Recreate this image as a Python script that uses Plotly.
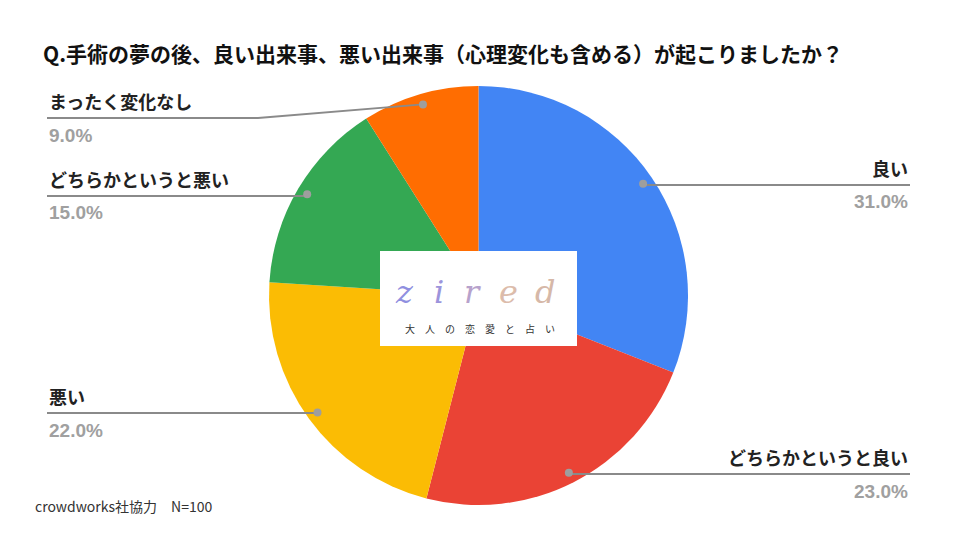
import math
import plotly.graph_objects as go

# ---- data ----
categories = ["良い", "どちらかというと良い", "悪い", "どちらかというと悪い", "まったく変化なし"]
values = [31.0, 23.0, 22.0, 15.0, 9.0]
colors = ["#4285F4", "#EA4335", "#FBBC04", "#34A853", "#FF6D01"]
title_text = "Q.手術の夢の後、良い出来事、悪い出来事（心理変化も含める）が起こりましたか？"
footer_text = "crowdworks社協力　N=100"

W, H = 960, 540
CX, CY, R = 478.5, 295.5, 209.5


def px(x):
    return x / W


def py(y):
    return 1 - y / H


fig = go.Figure()
fig.add_trace(go.Pie(
    labels=categories, values=values, sort=False, direction="clockwise",
    rotation=0, marker=dict(colors=colors, line=dict(width=0)),
    textinfo="none", hoverinfo="label+percent", showlegend=False,
    domain=dict(x=[px(CX - R), px(CX + R)], y=[py(CY + R), py(CY - R)]),
))

# label layout: side, label-line y, bend x (None -> dot x)
label_layout = {
    "良い": ("right", 185, None),
    "どちらかというと良い": ("right", 474, None),
    "悪い": ("left", 413, None),
    "どちらかというと悪い": ("left", 196, None),
    "まったく変化なし": ("left", 118, 258),
}

shapes = []
annotations = []
total = sum(values)
cum = 0.0
for cat, v in zip(categories, values):
    mid = (cum + v / 2) / total * 2 * math.pi
    cum += v
    dx = CX + 0.95 * R * math.sin(mid)
    dy = CY - 0.95 * R * math.cos(mid)
    side, ly, bend = label_layout[cat]
    edge = 47 if side == "left" else 910
    bx = dx if bend is None else bend
    path = f"M {px(edge)} {py(ly)} L {px(bx)} {py(ly)} L {px(dx)} {py(dy)}"
    shapes.append(dict(type="path", path=path, xref="paper", yref="paper",
                       line=dict(color="#8a8a8a", width=2), layer="above"))
    shapes.append(dict(type="circle", xref="paper", yref="paper",
                       x0=px(dx - 4), x1=px(dx + 4), y0=py(dy + 4), y1=py(dy - 4),
                       fillcolor="#9e9e9e", line=dict(width=0), layer="above"))
    anchor = "left" if side == "left" else "right"
    annotations.append(dict(text=f"<b>{cat}</b>", x=px(edge), y=py(ly - 17),
                            xref="paper", yref="paper", xanchor=anchor, yanchor="middle",
                            showarrow=False,
                            font=dict(family="Noto Sans CJK JP", size=18, color="#222222")))
    annotations.append(dict(text=f"<b>{v:.1f}%</b>", x=px(edge), y=py(ly + 17),
                            xref="paper", yref="paper", xanchor=anchor, yanchor="middle",
                            showarrow=False,
                            font=dict(family="Liberation Sans", size=19, color="#a0a0a0")))

# logo box
shapes.append(dict(type="rect", xref="paper", yref="paper",
                   x0=px(380), x1=px(577), y0=py(346), y1=py(251),
                   fillcolor="white", line=dict(width=0), layer="above"))
logo_letters = ["z", "i", "r", "e", "d"]
logo_colors = ["#8f8fe0", "#9c94dc", "#b7a2cc", "#dcbcab", "#d6b8a8"]
logo_x = [404, 439, 472, 508, 545]
for ch, c, x in zip(logo_letters, logo_colors, logo_x):
    annotations.append(dict(text=f"<i>{ch}</i>", x=px(x), y=py(292), xref="paper", yref="paper",
                            xanchor="center", yanchor="middle", showarrow=False,
                            font=dict(family="DejaVu Serif", size=32, color=c)))
annotations.append(dict(text="大　人　の　恋　愛　と　占　い", x=px(480), y=py(328),
                        xref="paper", yref="paper", xanchor="center", yanchor="middle",
                        showarrow=False,
                        font=dict(family="Noto Sans CJK JP", size=10, color="#333333")))

annotations.append(dict(text=f"<b>{title_text}</b>", x=px(41), y=py(53), xref="paper", yref="paper",
                        xanchor="left", yanchor="middle", showarrow=False,
                        font=dict(family="Noto Sans CJK JP", size=21, color="#111111")))
annotations.append(dict(text=footer_text, x=px(33), y=py(506), xref="paper", yref="paper",
                        xanchor="left", yanchor="middle", showarrow=False,
                        font=dict(family="Noto Sans CJK JP", size=14, color="#333333")))

fig.update_layout(width=W, height=H, margin=dict(l=0, r=0, t=0, b=0),
                  paper_bgcolor="white", plot_bgcolor="white",
                  shapes=shapes, annotations=annotations)
fig.write_html("out.html", config={"displayModeBar": False},
               post_script="document.body.style.margin='0';")
